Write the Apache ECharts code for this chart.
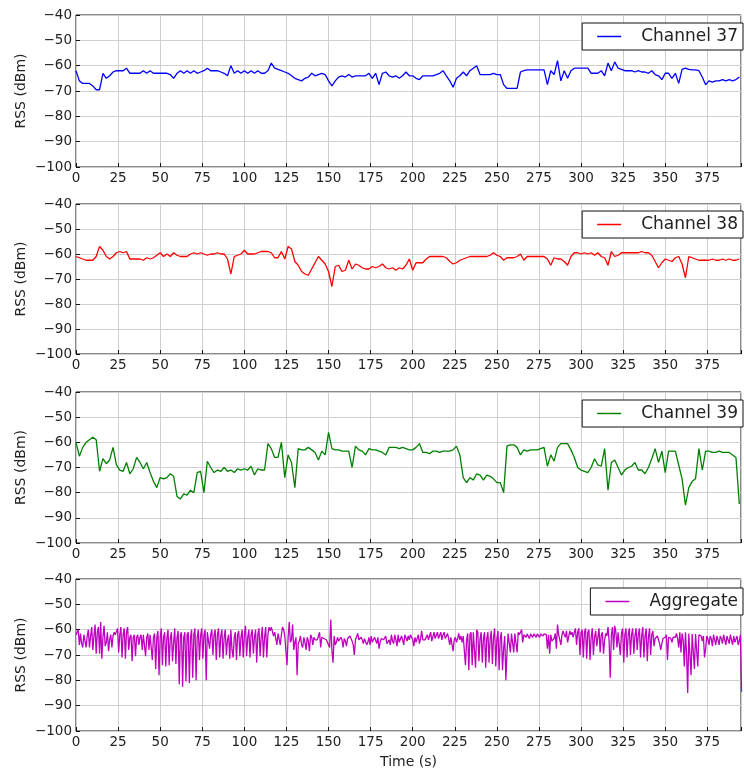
<!DOCTYPE html>
<html>
<head>
<meta charset="utf-8">
<script src="https://cdn.jsdelivr.net/npm/echarts@6/dist/echarts.min.js"></script>
<style>
html,body{margin:0;padding:0;background:#fff;}
#chart{width:744px;height:771px;}
</style>
</head>
<body>
<div id="chart"></div>
<script>
// Sample spacing (seconds) of the per-channel arrays below, starting at t = 0
const TIME_STEP = 2;
const X_TICKS = [0, 25, 50, 75, 100, 125, 150, 175, 200, 225, 250, 275, 300, 325, 350, 375];
const Y_TICKS = [-100, -90, -80, -70, -60, -50, -40];
const SERIES_NAMES = ['Channel 37', 'Channel 38', 'Channel 39', 'Aggregate'];

const ch37 = [
  -62, -66, -67, -67, -67, -68, -69.5, -69.5, -63, -65,
  -64, -62.5, -62, -62, -62, -61, -63, -63, -63, -63,
  -62, -63, -62, -63, -63, -63, -63, -63, -63.5, -65,
  -63, -62, -63, -62, -63, -62, -63, -62.5, -62, -61,
  -62, -62, -62, -62.5, -63, -64, -60, -63, -62, -63,
  -62, -63, -62, -63, -62, -63, -63, -62, -59, -61,
  -61.5, -62, -62.5, -63, -64, -65, -65.5, -66, -65, -64.5,
  -63, -64, -63.5, -63, -63.5, -66, -68, -66, -64.5, -64,
  -64.5, -63.5, -64.5, -64, -64, -64, -64, -63, -65, -63,
  -67.5, -63, -62.5, -64, -64.5, -64, -65, -64, -62.5, -64,
  -64, -65, -65.5, -64, -64, -64, -64, -63.5, -63, -62,
  -64, -66, -68.5, -65, -64, -62.5, -64, -62, -61, -60,
  -63.5, -63.5, -63.5, -63.5, -63, -63.5, -63.5, -67.5, -69, -69,
  -69, -69, -62.5, -62, -61.7, -61.7, -61.7, -61.7, -61.7, -61.7,
  -67.5, -62, -63.5, -58, -66, -62, -65, -62, -61, -61,
  -61, -61, -61, -63, -63, -63, -62, -64, -59, -62,
  -58.5, -61, -61.5, -62, -62, -62, -62.5, -62, -62.5, -62.5,
  -63, -62, -63.5, -64, -65.5, -63, -63, -65, -63, -67,
  -61.5, -61, -61.5, -61.7, -61.7, -62, -64.5, -67.5, -66, -66.5,
  -66, -66, -65.5, -66, -65.5, -66, -65.5, -64.5
];

const ch38 = [
  -61, -61.5, -62, -62.5, -62.5, -62.5, -61, -57, -58.5, -61,
  -62, -61, -59.5, -59, -59.5, -59, -62, -62, -62, -62,
  -62.5, -61.5, -62, -61.5, -60.5, -59.5, -61, -60, -61, -59.5,
  -60.5, -61, -61, -61, -60, -59.5, -60, -59.5, -60, -60.5,
  -60, -60, -59.5, -60, -60, -62, -68, -61, -60.5, -60,
  -58.5, -60, -60, -60, -59.5, -59, -59, -59, -59.5, -61.5,
  -61.5, -59, -62, -57, -58, -63, -64.5, -67, -68, -68.5,
  -66, -63.5, -61, -62.5, -64, -67, -73, -65, -64.5, -67,
  -66.5, -62.5, -66, -64, -64.5, -65.5, -66, -66, -65, -65.5,
  -65, -64, -65.5, -66, -65.5, -66.5, -65.5, -66, -64.5, -62,
  -66.5, -63.5, -63.5, -63.5, -62, -61, -61, -61, -61, -61,
  -61.5, -63, -64, -63.5, -62.5, -62, -61.5, -61, -61, -61,
  -61, -61, -61, -60.5, -59.5, -60.5, -61, -62.5, -61.5, -61.5,
  -61.5, -61, -60, -62.5, -61, -61, -61, -61, -61, -61,
  -62, -64.5, -61.5, -62, -62, -63, -64.5, -61, -59.5, -59.5,
  -60, -59.5, -60, -59.5, -60.5, -59.5, -61, -61.5, -64.5, -59,
  -61, -60.5, -59.5, -59.5, -59.5, -59.5, -59.5, -59.5, -59, -59.5,
  -59.5, -60.5, -63, -65.5, -63.5, -62, -62.5, -63, -61.5, -61,
  -64, -69.5, -61, -61.5, -62, -62.5, -62.5, -62.5, -62.5, -62,
  -62.5, -62.5, -62, -62.5, -62, -62.5, -62.5, -62
];

const ch39 = [
  -60, -65.5, -62, -60, -59, -58, -59, -71.5, -66.5, -68.5,
  -67, -62, -69, -71, -71.5, -68, -72.5, -70.5, -66, -68,
  -70.5, -68, -72, -75.5, -78, -74, -74.5, -74, -72.5, -73.5,
  -81.5, -82.5, -80.5, -81, -79, -80, -72, -71.5, -80, -67.5,
  -70, -72, -71, -71.5, -70, -71.5, -71, -72, -70.5, -71,
  -70.5, -71, -69.5, -73, -70.5, -71, -71, -60.5, -62.5, -66,
  -66, -60, -74, -65, -68, -78, -62.5, -63, -63, -62,
  -63, -64, -67, -63.5, -65, -56, -62.5, -63, -63, -63.5,
  -63.5, -63.5, -70, -61.5, -63, -63.5, -65, -62.5, -63, -63,
  -63.5, -64, -65, -62, -62, -62, -62.5, -62, -62.5, -63,
  -63, -62, -60.5, -64, -64, -64.5, -63.5, -63.5, -64, -63.5,
  -63.5, -63.5, -63, -61.5, -65, -74, -76, -74, -75, -72.5,
  -73, -75, -73, -73.5, -74.5, -76, -76, -80, -61.5, -61,
  -61, -62, -65, -63, -63.5, -63, -63, -63, -62.5, -62,
  -69.5, -65, -67.5, -62, -60.5, -60.5, -60.5, -63, -66, -70,
  -71, -71.5, -72, -70, -66.5, -69, -69.5, -62.5, -79, -68,
  -67, -70, -73, -71, -70, -69.5, -68, -71, -71, -72.5,
  -70, -66.5, -62.5, -68, -63.5, -72, -63.5, -63.5, -63.5, -69,
  -74.5, -85, -78, -75.5, -74.5, -62.5, -71, -63.5, -63.5, -64,
  -64, -63.5, -64, -64, -64, -65, -66, -84.5
];

const COLORS = ['#0000ff', '#ff0000', '#008000', '#bf00bf'];
const FONT = 'DejaVu Sans';
const minus = v => String(v).replace('-', '\u2212');

// pair channel samples with their times
function toPoints(arr) {
  return arr.map((v, i) => [i * TIME_STEP, v]);
}
// Aggregate = the three channels' samples taken in turn (37, 38, 39 within each step)
function aggregatePoints() {
  const pts = [];
  const chans = [ch37, ch38, ch39];
  for (let i = 0; i < ch37.length; i++) {
    for (let c = 0; c < 3; c++) {
      pts.push([i * TIME_STEP + c * TIME_STEP / 3, chans[c][i]]);
    }
  }
  return pts;
}

const seriesData = [toPoints(ch37), toPoints(ch38), toPoints(ch39), aggregatePoints()];

const gridTops = [15, 204, 392, 579];
const gridHeights = [152, 150, 151, 152];
const legendTops = [23, 211, 400, 588];

const grids = [], xAxes = [], yAxes = [], series = [], legends = [];
for (let k = 0; k < 4; k++) {
  grids.push({
    left: 76, top: gridTops[k], width: 667, height: gridHeights[k],
    show: true, borderColor: '#111', borderWidth: 1, backgroundColor: '#fff'
  });
  xAxes.push({
    type: 'value', gridIndex: k, min: 0, max: 395, interval: 25,
    axisLine: { show: false },
    axisTick: { show: true, inside: true, length: 4, lineStyle: { color: '#111' } },
    axisLabel: {
      margin: 4, fontSize: 13.5, color: '#222', fontFamily: FONT,
      formatter: v => X_TICKS.includes(v) ? String(v) : ''
    },
    splitLine: { show: true, lineStyle: { color: '#cfcfcf', width: 1 } },
    name: k === 3 ? 'Time (s)' : '',
    nameLocation: 'middle', nameGap: 24, nameMoveOverlap: false,
    nameTextStyle: { fontSize: 14, color: '#222', fontFamily: FONT }
  });
  yAxes.push({
    type: 'value', gridIndex: k, min: Y_TICKS[0], max: Y_TICKS[Y_TICKS.length - 1], interval: 10,
    axisLine: { show: false },
    axisTick: { show: true, inside: true, length: 4, lineStyle: { color: '#111' } },
    axisLabel: { margin: 4, fontSize: 13.5, color: '#222', fontFamily: FONT, formatter: minus },
    splitLine: { show: true, lineStyle: { color: '#cfcfcf', width: 1 } },
    name: 'RSS (dBm)', nameLocation: 'middle', nameGap: 48, nameMoveOverlap: false,
    nameTextStyle: { fontSize: 14, color: '#222', fontFamily: FONT }
  });
  series.push({
    name: SERIES_NAMES[k], type: 'line', xAxisIndex: k, yAxisIndex: k,
    data: seriesData[k], showSymbol: false, symbol: 'none',
    lineStyle: { color: COLORS[k], width: 1.3 }, itemStyle: { color: COLORS[k] },
    animation: false, clip: true
  });
  legends.push({
    data: [SERIES_NAMES[k]], right: 1, top: legendTops[k],
    orient: 'horizontal', icon: 'rect', itemWidth: 24, itemHeight: 1.5,
    padding: [5, 5, 5, 15], borderColor: '#111', borderWidth: 1, borderRadius: 0,
    backgroundColor: '#fff',
    textStyle: { fontSize: 17, color: '#222', fontFamily: FONT, padding: [0, 0, 0, 15] },
    selectedMode: false
  });
}

const chart = echarts.init(document.getElementById('chart'), null, { renderer: 'canvas' });
chart.setOption({
  animation: false,
  backgroundColor: '#fff',
  grid: grids, xAxis: xAxes, yAxis: yAxes, series: series, legend: legends
});
</script>
</body>
</html>
